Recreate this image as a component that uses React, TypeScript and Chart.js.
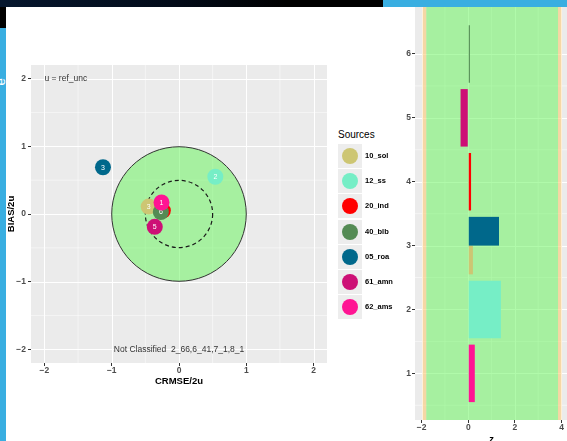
import React, { useEffect, useRef } from "react";
import { Chart, registerables } from "chart.js";
Chart.register(...registerables);

// ---- data ----
const sources = ["10_sol", "12_ss", "20_ind", "40_blb", "05_roa", "61_amn", "62_ams"];
const sourceColors = ["#CDC673", "#76EEC6", "#FF0000", "#548B54", "#00688B", "#CD1076", "#FF1493"];
const pointLabels = ["3", "2", "4", "6", "3", "5", "1"];
const crmse = [-0.45, 0.54, -0.24, -0.27, -1.13, -0.36, -0.26];
const bias = [0.11, 0.55, 0.05, 0.03, 0.69, -0.19, 0.17];
const zGroup = [3, 2, 4, 6, 3, 5, 1];
const zValue = [0.2, 1.4, 0.12, 0.07, 1.32, -0.33, 0.28];
const zCategories = [1, 2, 3, 4, 5, 6];
const targetTicks = [-2, -1, 0, 1, 2];
const targetMinor = [-1.5, -0.5, 0.5, 1.5];
const zTicksX = [-2, 0, 2, 4];
const zMinorX = [-1, 1, 3];
const zMinorY = [0.5, 1.5, 2.5, 3.5, 4.5, 5.5];
const noteTopLeft = "u = ref_unc";
const noteBottom = "Not Classified  2_66,6_41,7_1,8_1";

const FONT = '"Liberation Sans", Arial, Helvetica, sans-serif';
const fmt = (v: number) => (v < 0 ? "\u2212" + Math.abs(v) : String(v));
const px = (p: number) => Math.round(p) + 0.5;

function TargetChart() {
  const ref = useRef<HTMLCanvasElement>(null);
  useEffect(() => {
    const plugin = {
      id: "targetDecor",
      beforeDraw(chart: any) {
        const { ctx, chartArea: a, scales } = chart;
        const { x, y } = scales;
        ctx.save();
        ctx.fillStyle = "#EBEBEB";
        ctx.fillRect(a.left, a.top, a.right - a.left, a.bottom - a.top);
        ctx.strokeStyle = "#FFFFFF";
        ctx.lineWidth = 0.5;
        for (const v of targetMinor) {
          ctx.beginPath();
          ctx.moveTo(x.getPixelForValue(v), a.top);
          ctx.lineTo(x.getPixelForValue(v), a.bottom);
          ctx.stroke();
          ctx.beginPath();
          ctx.moveTo(a.left, y.getPixelForValue(v));
          ctx.lineTo(a.right, y.getPixelForValue(v));
          ctx.stroke();
        }
        ctx.lineWidth = 1;
        for (const v of targetTicks) {
          ctx.beginPath();
          ctx.moveTo(px(x.getPixelForValue(v)), a.top);
          ctx.lineTo(px(x.getPixelForValue(v)), a.bottom);
          ctx.stroke();
          ctx.beginPath();
          ctx.moveTo(a.left, px(y.getPixelForValue(v)));
          ctx.lineTo(a.right, px(y.getPixelForValue(v)));
          ctx.stroke();
        }
        ctx.restore();
      },
      beforeDatasetsDraw(chart: any) {
        const { ctx, scales } = chart;
        const { x, y } = scales;
        const cx = x.getPixelForValue(0);
        const cy = y.getPixelForValue(0);
        const r1 = x.getPixelForValue(1) - cx;
        const r2 = x.getPixelForValue(0.5) - cx;
        ctx.save();
        ctx.beginPath();
        ctx.arc(cx, cy, r1, 0, Math.PI * 2);
        ctx.fillStyle = "rgba(97,245,85,0.5)";
        ctx.fill();
        ctx.strokeStyle = "#333333";
        ctx.lineWidth = 1;
        ctx.stroke();
        ctx.beginPath();
        ctx.arc(cx, cy, r2, 0, Math.PI * 2);
        ctx.setLineDash([4, 3]);
        ctx.strokeStyle = "#1a1a1a";
        ctx.lineWidth = 1.2;
        ctx.stroke();
        ctx.restore();
      },
      afterDatasetDraw(chart: any, args: any) {
        const { ctx, scales } = chart;
        const { x, y } = scales;
        const i = args.index;
        ctx.save();
        ctx.fillStyle = "#FFFFFF";
        ctx.font = `7px ${FONT}`;
        ctx.textAlign = "center";
        ctx.textBaseline = "middle";
        ctx.fillText(pointLabels[i], x.getPixelForValue(crmse[i]), y.getPixelForValue(bias[i]) + 0.5);
        ctx.restore();
      },
      afterDatasetsDraw(chart: any) {
        const { ctx, chartArea: a, scales } = chart;
        const { x, y } = scales;
        ctx.save();
        ctx.textBaseline = "middle";
        ctx.fillStyle = "#333333";
        ctx.font = `8.5px ${FONT}`;
        ctx.textAlign = "left";
        ctx.fillText(noteTopLeft, x.getPixelForValue(-2), y.getPixelForValue(2));
        ctx.textAlign = "center";
        ctx.fillText(noteBottom, x.getPixelForValue(0), y.getPixelForValue(-2));
        // axis titles
        ctx.fillStyle = "#000000";
        ctx.font = `bold 9.5px ${FONT}`;
        ctx.fillText("CRMSE/2u", (a.left + a.right) / 2, 381);
        ctx.translate(11, (a.top + a.bottom) / 2);
        ctx.rotate(-Math.PI / 2);
        ctx.fillText("BIAS/2u", 0, 0);
        ctx.restore();
      },
    };
    const tickFont = { family: FONT, size: 8.5, weight: "bold" as const };
    const chart = new Chart(ref.current!, {
      type: "scatter",
      data: {
        datasets: sources.map((s, i) => ({
          label: s,
          data: [{ x: crmse[i], y: bias[i] }],
          backgroundColor: sourceColors[i],
          borderWidth: 0,
          pointRadius: 8,
          pointHoverRadius: 8,
          order: sources.length - i,
        })),
      },
      options: {
        animation: false,
        responsive: false,
        events: [],
        layout: { padding: { top: 65, right: 7, bottom: 27, left: 0 } },
        plugins: { legend: { display: false }, tooltip: { enabled: false } },
        scales: {
          x: {
            type: "linear",
            min: -2.2,
            max: 2.2,
            afterBuildTicks: (s: any) => {
              s.ticks = targetTicks.map((v) => ({ value: v }));
            },
            afterFit: (s: any) => {
              s.height = 10;
            },
            ticks: { font: tickFont, color: "#4D4D4D", padding: 0, callback: (v: any) => fmt(Number(v)), maxRotation: 0 },
            grid: { drawOnChartArea: false, tickLength: 3, tickColor: "#333333", tickWidth: 1 },
            border: { display: false },
          },
          y: {
            type: "linear",
            min: -2.2,
            max: 2.2,
            afterBuildTicks: (s: any) => {
              s.ticks = targetTicks.map((v) => ({ value: v }));
            },
            afterFit: (s: any) => {
              s.width = 31;
            },
            ticks: { font: tickFont, color: "#4D4D4D", padding: 2, callback: (v: any) => fmt(Number(v)) },
            grid: { drawOnChartArea: false, tickLength: 3, tickColor: "#333333", tickWidth: 1 },
            border: { display: false },
          },
        },
      },
      plugins: [plugin],
    } as any);
    return () => chart.destroy();
  }, []);
  return (
    <canvas
      ref={ref}
      width={335}
      height={400}
      style={{ position: "absolute", left: 0, top: 0, width: 335, height: 400 }}
    />
  );
}

function ZChart() {
  const ref = useRef<HTMLCanvasElement>(null);
  useEffect(() => {
    const plugin = {
      id: "zDecor",
      beforeDraw(chart: any) {
        const { ctx, chartArea: a, scales } = chart;
        const { x, y } = scales;
        ctx.save();
        ctx.fillStyle = "#EBEBEB";
        ctx.fillRect(a.left, a.top, a.right - a.left, a.bottom - a.top);
        ctx.strokeStyle = "#FFFFFF";
        ctx.lineWidth = 0.5;
        for (const v of zMinorX) {
          ctx.beginPath();
          ctx.moveTo(x.getPixelForValue(v), a.top);
          ctx.lineTo(x.getPixelForValue(v), a.bottom);
          ctx.stroke();
        }
        for (const v of zMinorY) {
          ctx.beginPath();
          ctx.moveTo(a.left, y.getPixelForValue(v));
          ctx.lineTo(a.right, y.getPixelForValue(v));
          ctx.stroke();
        }
        ctx.lineWidth = 1;
        for (const v of zTicksX) {
          ctx.beginPath();
          ctx.moveTo(px(x.getPixelForValue(v)), a.top);
          ctx.lineTo(px(x.getPixelForValue(v)), a.bottom);
          ctx.stroke();
        }
        for (const v of zCategories) {
          ctx.beginPath();
          ctx.moveTo(a.left, px(y.getPixelForValue(v)));
          ctx.lineTo(a.right, px(y.getPixelForValue(v)));
          ctx.stroke();
        }
        // acceptance bands
        const x0 = x.getPixelForValue(-1.96);
        const x1 = x.getPixelForValue(-1.8);
        const x2 = x.getPixelForValue(3.85);
        const x3 = x.getPixelForValue(4.0);
        ctx.fillStyle = "rgba(252,202,118,0.6)";
        ctx.fillRect(x0, a.top, x1 - x0, a.bottom - a.top);
        ctx.fillRect(x2, a.top, x3 - x2, a.bottom - a.top);
        ctx.fillStyle = "rgba(97,245,85,0.5)";
        ctx.fillRect(x1, a.top, x2 - x1, a.bottom - a.top);
        ctx.restore();
      },
      afterDraw(chart: any) {
        const { ctx } = chart;
        ctx.save();
        ctx.fillStyle = "#000000";
        ctx.font = `bold 9.5px ${FONT}`;
        ctx.textAlign = "center";
        ctx.textBaseline = "alphabetic";
        ctx.fillText("z", chart.scales.x.getPixelForValue(1), 442);
        ctx.restore();
      },
    };
    const order = [6, 5, 4, 3, 2, 1, 0];
    const tickFont = { family: FONT, size: 8.5, weight: "bold" as const };
    const chart = new Chart(ref.current!, {
      type: "bar",
      data: {
        datasets: order.map((i) => ({
          label: sources[i],
          data: zCategories.map((c) => ({ y: c, x: c === zGroup[i] ? zValue[i] : null })),
          backgroundColor: sourceColors[i],
          borderWidth: 0,
          categoryPercentage: 0.9,
          barPercentage: 1,
          skipNull: true,
        })),
      },
      options: {
        indexAxis: "y",
        animation: false,
        responsive: false,
        events: [],
        layout: { padding: { top: 7, right: 0, bottom: 9, left: 0 } },
        plugins: { legend: { display: false }, tooltip: { enabled: false } },
        scales: {
          x: {
            type: "linear",
            min: -2.285,
            max: 4.236,
            afterBuildTicks: (s: any) => {
              s.ticks = zTicksX.map((v) => ({ value: v }));
            },
            afterFit: (s: any) => {
              s.height = 12;
            },
            ticks: { font: tickFont, color: "#4D4D4D", padding: 0, callback: (v: any) => fmt(Number(v)), maxRotation: 0 },
            grid: { drawOnChartArea: false, tickLength: 3, tickColor: "#333333", tickWidth: 1 },
            border: { display: false },
          },
          y: {
            type: "linear",
            offset: false,
            min: 0.27,
            max: 6.735,
            afterBuildTicks: (s: any) => {
              s.ticks = zCategories.map((v) => ({ value: v }));
            },
            afterFit: (s: any) => {
              s.width = 32;
            },
            ticks: { font: tickFont, color: "#4D4D4D", padding: 1, callback: (v: any) => fmt(Number(v)) },
            grid: { offset: false, drawOnChartArea: false, tickLength: 3, tickColor: "#333333", tickWidth: 1 },
            border: { display: false },
          },
        },
      },
      plugins: [plugin],
    } as any);
    return () => chart.destroy();
  }, []);
  return (
    <canvas
      ref={ref}
      width={184}
      height={441}
      style={{ position: "absolute", left: 383, top: 0, width: 184, height: 441 }}
    />
  );
}

function Legend() {
  return (
    <div style={{ position: "absolute", left: 338, top: 128, fontFamily: FONT }}>
      <div style={{ position: "absolute", left: 0, top: 0, fontSize: 10, lineHeight: "14px", color: "#000", whiteSpace: "nowrap" }}>
        Sources
      </div>
      {sources.map((s, i) => (
        <div key={s} style={{ position: "absolute", left: 0, top: 16 + i * 25.2 }}>
          <div style={{ position: "absolute", left: 0, top: 0, width: 24, height: 24, background: "#EDEDED" }} />
          <div
            style={{
              position: "absolute",
              left: 4,
              top: 4,
              width: 16,
              height: 16,
              borderRadius: 8,
              background: sourceColors[i],
            }}
          />
          <div
            style={{
              position: "absolute",
              left: 27,
              top: 5,
              fontSize: 7.5,
              lineHeight: "14px",
              fontWeight: "bold",
              color: "#000",
              whiteSpace: "nowrap",
            }}
          >
            {s}
          </div>
        </div>
      ))}
    </div>
  );
}

export default function App() {
  return (
    <div
      style={{
        position: "fixed",
        left: 0,
        top: 0,
        width: 567,
        height: 441,
        overflow: "hidden",
        background: "#FFFFFF",
      }}
    >
      <TargetChart />
      <ZChart />
      <Legend />
      <div
        style={{
          position: "absolute",
          left: 0,
          top: 0,
          width: 383,
          height: 7,
          background: "linear-gradient(to right, #06172e 0%, #020b19 45%, #000000 75%)",
        }}
      />
      <div style={{ position: "absolute", left: 383, top: 0, width: 184, height: 7, background: "#39AEE1" }} />
      <div style={{ position: "absolute", left: 0, top: 7, width: 6, height: 21, background: "#000000" }} />
      <div
        style={{
          position: "absolute",
          left: 0,
          top: 28,
          width: 6,
          height: 413,
          background: "#39AEE1",
          overflow: "hidden",
        }}
      >
        <div
          style={{
            position: "absolute",
            left: -3,
            top: 46,
            color: "#FFFFFF",
            fontFamily: FONT,
            fontSize: 13,
            lineHeight: "16px",
            transform: "rotate(-90deg)",
          }}
        >
          e
        </div>
      </div>
    </div>
  );
}
